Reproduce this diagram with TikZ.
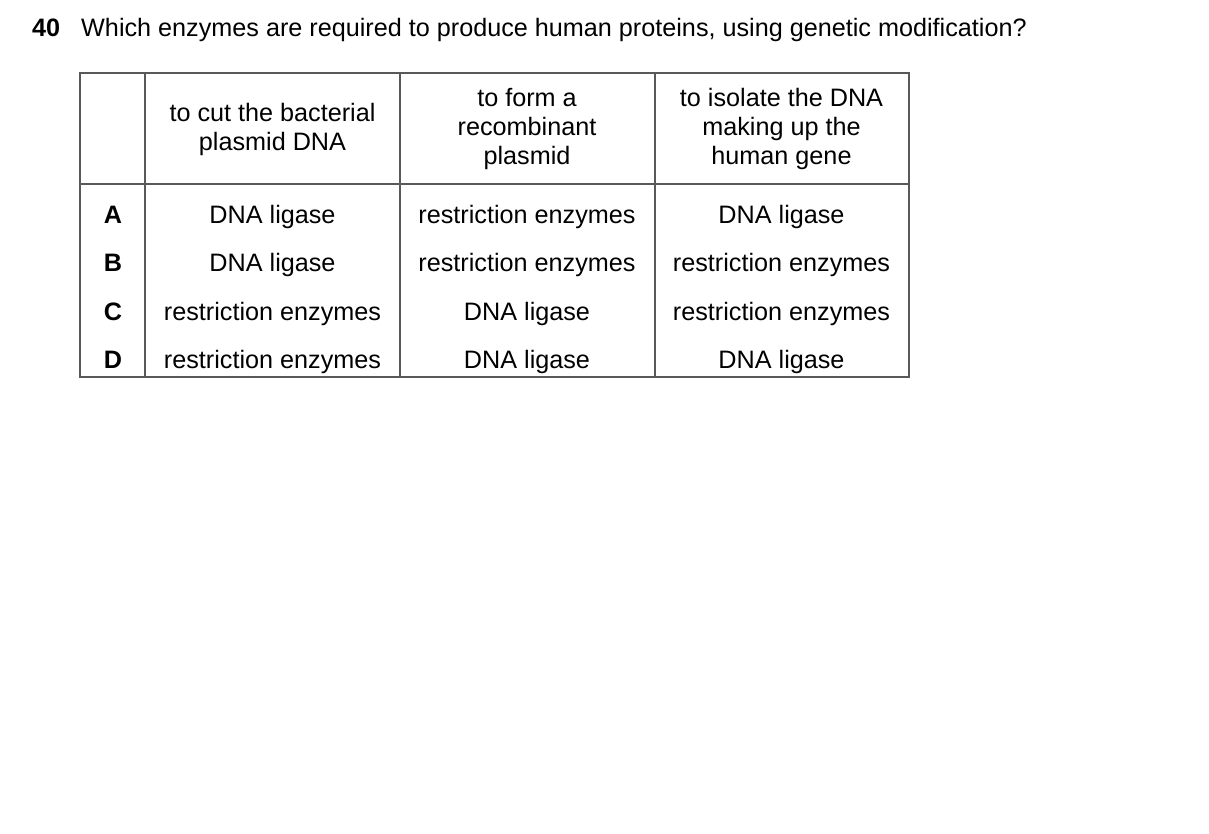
\documentclass[tikz,border=0pt]{standalone}
\usepackage{fontspec}
\setmainfont{Liberation Sans}
\begin{document}
\begin{tikzpicture}[x=1pt,y=-1pt,
  txt/.style={inner sep=0pt,anchor=base,font=\fontsize{25.2}{29}\selectfont},
  lbl/.style={inner sep=0pt,anchor=base,font=\fontsize{25.2}{29}\selectfont\bfseries},
  grid/.style={draw=black!65,line width=1.4pt}]
\useasboundingbox (0,0) rectangle (1209,834);
% title
\node[lbl,anchor=base west] (qn) at (32,37) {40};
\node[txt,anchor=base west] (qt) at (81,37) {Which enzymes are required to produce human proteins, using genetic modification?};
% table frame
\coordinate (tl) at (80,73);
\coordinate (br) at (909,377);
\draw[grid] (tl) rectangle (br);
\draw[grid] (145,73) -- (145,377);
\draw[grid] (400,73) -- (400,377);
\draw[grid] (655,73) -- (655,377);
\draw[grid] (80,184) -- (909,184);
% headers
\node[txt] (h1a) at (272.5,122) {to cut the bacterial};
\node[txt] (h1b) at (272.5,151) {plasmid DNA};
\node[txt] (h2a) at (527,107) {to form a};
\node[txt] (h2b) at (527,136) {recombinant};
\node[txt] (h2c) at (527,165) {plasmid};
\node[txt] (h3a) at (781.5,107) {to isolate the DNA};
\node[txt] (h3b) at (781.5,136) {making up the};
\node[txt] (h3c) at (781.5,165) {human gene};
% rows
\node[lbl] (la) at (113,224) {A};
\node[lbl] (lb) at (113,272) {B};
\node[lbl] (lc) at (113,320) {C};
\node[lbl] (ld) at (113,368) {D};
\node[txt] (a1) at (272.5,224) {DNA ligase};
\node[txt] (a2) at (527,224) {restriction enzymes};
\node[txt] (a3) at (781.5,224) {DNA ligase};
\node[txt] (b1) at (272.5,272) {DNA ligase};
\node[txt] (b2) at (527,272) {restriction enzymes};
\node[txt] (b3) at (781.5,272) {restriction enzymes};
\node[txt] (c1) at (272.5,320) {restriction enzymes};
\node[txt] (c2) at (527,320) {DNA ligase};
\node[txt] (c3) at (781.5,320) {restriction enzymes};
\node[txt] (d1) at (272.5,368) {restriction enzymes};
\node[txt] (d2) at (527,368) {DNA ligase};
\node[txt] (d3) at (781.5,368) {DNA ligase};
\end{tikzpicture}
\end{document}
